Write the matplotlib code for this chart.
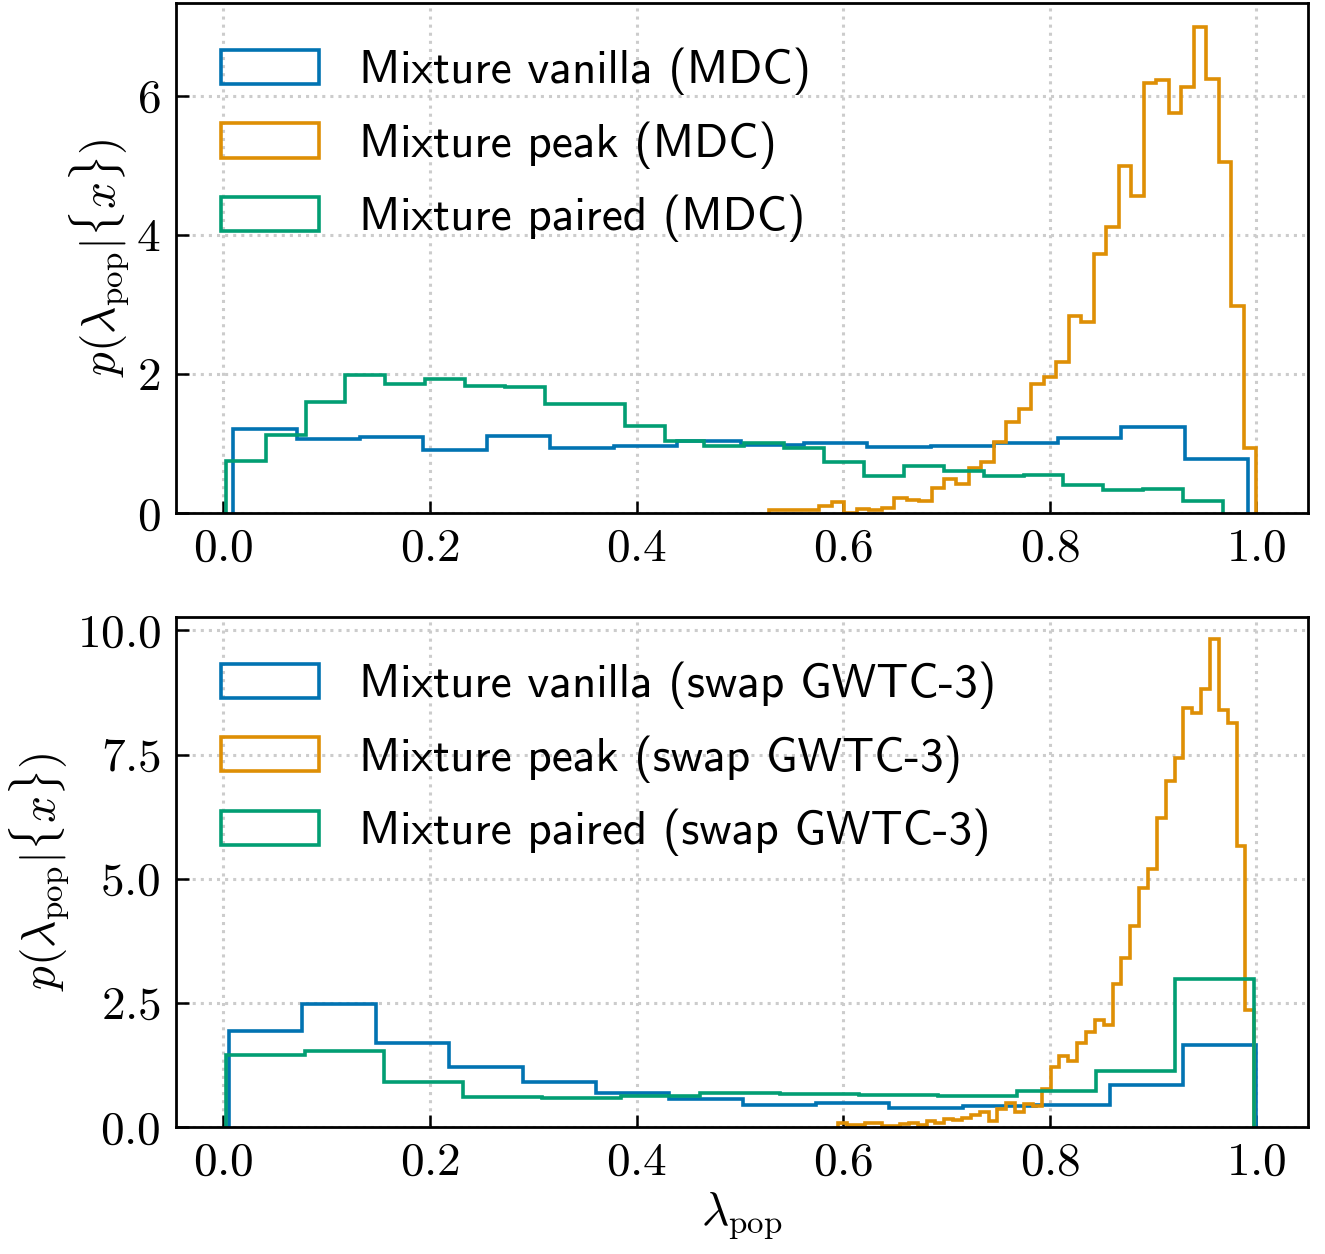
import matplotlib.pyplot as plt
from matplotlib.patches import Patch
import numpy as np

plt.rcParams['font.family'] = 'serif'
plt.rcParams['font.serif'] = ['cmr10']
plt.rcParams['mathtext.fontset'] = 'cm'
plt.rcParams['axes.formatter.use_mathtext'] = True

# Histogram densities (range of samples + bin heights)
mdc_vanilla_range = (0.0093, 0.992)
mdc_vanilla = [1.21, 1.07, 1.09, 0.90, 1.11, 0.94, 0.96, 1.03, 0.98, 1.00,
               0.95, 0.96, 1.01, 1.08, 1.24, 0.77]

mdc_peak_range = (0.5282, 1.0)
mdc_peak = [0.05, 0.04, 0.04, 0.04, 0.10, 0.16, 0.0, 0.06, 0.04, 0.07,
            0.22, 0.19, 0.17, 0.36, 0.49, 0.41, 0.65, 0.73, 1.02, 1.31,
            1.49, 1.86, 1.95, 2.17, 2.83, 2.74, 3.72, 4.11, 4.99, 4.56,
            6.18, 6.23, 5.75, 6.13, 6.99, 6.24, 5.04, 2.98, 0.93]

mdc_paired_range = (0.0022, 0.9677)
mdc_paired = [0.75, 1.12, 1.60, 1.98, 1.86, 1.92, 1.83, 1.81, 1.57, 1.57,
              1.25, 1.04, 0.97, 1.00, 0.93, 0.73, 0.53, 0.67, 0.60, 0.53,
              0.54, 0.40, 0.33, 0.34, 0.17]

gwtc_vanilla_range = (0.0054, 1.0)
gwtc_vanilla = [1.94, 2.48, 1.70, 1.21, 0.90, 0.69, 0.56, 0.45, 0.48, 0.38,
                0.43, 0.44, 0.85, 1.65]

gwtc_peak_range = (0.595, 0.998)
gwtc_peak = [0.08, 0.04, 0.04, 0.08, 0.08, 0.02, 0.02, 0.05, 0.08, 0.03,
             0.13, 0.09, 0.16, 0.14, 0.19, 0.24, 0.31, 0.13, 0.36, 0.49,
             0.31, 0.47, 0.43, 0.76, 1.21, 1.42, 1.32, 1.70, 1.92, 2.16,
             2.06, 2.88, 3.40, 4.04, 4.82, 5.19, 6.22, 6.96, 7.42, 8.44,
             8.34, 8.82, 9.83, 8.40, 8.13, 5.66, 2.36]

gwtc_paired_range = (0.0022, 0.998)
gwtc_paired = [1.44, 1.52, 0.90, 0.61, 0.58, 0.63, 0.69, 0.66, 0.64, 0.63,
               0.73, 1.13, 2.97]

colors = ['#0173b2', '#de8f05', '#029e73']
mdc_labels = ['Mixture vanilla (MDC)', 'Mixture peak (MDC)', 'Mixture paired (MDC)']
gwtc_labels = ['Mixture vanilla (swap GWTC-3)', 'Mixture peak (swap GWTC-3)',
               'Mixture paired (swap GWTC-3)']

fig = plt.figure(figsize=(13.25, 12.54), dpi=100)
ax1 = fig.add_axes([0.1328, 0.5909, 0.8544, 0.4067])
ax2 = fig.add_axes([0.1328, 0.1013, 0.8544, 0.4067])

panels = [
    (ax1, [(mdc_vanilla, mdc_vanilla_range), (mdc_peak, mdc_peak_range),
           (mdc_paired, mdc_paired_range)], mdc_labels, 7.33, [0, 2, 4, 6]),
    (ax2, [(gwtc_vanilla, gwtc_vanilla_range), (gwtc_peak, gwtc_peak_range),
           (gwtc_paired, gwtc_paired_range)], gwtc_labels, 10.27,
     [0, 2.5, 5, 7.5, 10]),
]

for ax, series, labels, ytop, yticks in panels:
    for (vals, (lo, hi)), c in zip(series, colors):
        edges = np.linspace(lo, hi, len(vals) + 1)
        ax.stairs(vals, edges, color=c, lw=2.6, baseline=0)
    ax.set_xlim(-0.046, 1.05)
    ax.set_ylim(0, ytop)
    ax.set_xticks([0, 0.2, 0.4, 0.6, 0.8, 1.0])
    ax.set_yticks(yticks)
    ax.grid(True, linestyle=':', color='#cccccc', lw=2.2)
    ax.set_axisbelow(True)
    ax.tick_params(direction='in', length=9, width=1.8, labelsize=34, pad=11)
    for s in ax.spines.values():
        s.set_linewidth(2.0)
    ax.set_ylabel(r'$p(\lambda_{\rm pop}|\{x\})$', fontsize=34)
    handles = [Patch(facecolor='none', edgecolor=c, lw=2.6) for c in colors]
    ax.legend(handles, labels, loc='upper left', frameon=False,
              prop={'family': 'cmss10', 'size': 34}, handlelength=2.08,
              handleheight=0.74, handletextpad=0.85, labelspacing=0.55,
              borderaxespad=0.55, borderpad=0.4)

ax1.yaxis.set_major_formatter(plt.FormatStrFormatter('$%d$'))
ax2.yaxis.set_major_formatter(plt.FormatStrFormatter('$%.1f$'))
for ax in (ax1, ax2):
    ax.xaxis.set_major_formatter(plt.FormatStrFormatter('$%.1f$'))

ax2.set_xlabel(r'$\lambda_{\rm pop}$', fontsize=34)

fig.savefig('out.png', dpi=100)
